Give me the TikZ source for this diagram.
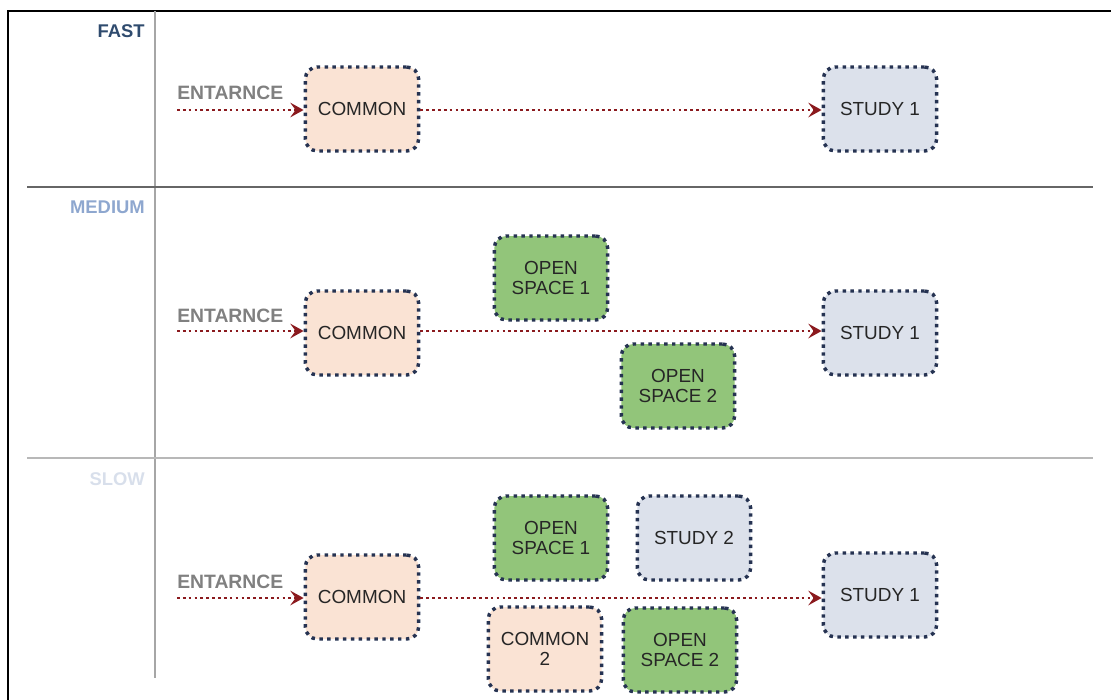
\documentclass[tikz,border=0pt]{standalone}
\usepackage{fontspec}
\setmainfont{Liberation Sans}
\usetikzlibrary{arrows.meta,positioning}

\definecolor{boxedge}{HTML}{263352}
\definecolor{walkred}{HTML}{8B1A1E}
\definecolor{commonfill}{HTML}{FAE3D4}
\definecolor{studyfill}{HTML}{DCE1EB}
\definecolor{openfill}{HTML}{92C57A}
\definecolor{fastc}{HTML}{2F4B6E}
\definecolor{mediumc}{HTML}{8EA7CF}
\definecolor{slowc}{HTML}{D8DFEB}

\begin{document}
\begin{tikzpicture}[x=0.75pt,y=-0.75pt]
\tikzstyle{room} = [draw=boxedge, line width=2.6pt, dash pattern=on 2.6pt off 3.3pt, rounded corners=9pt, minimum width=85pt, minimum height=63pt, inner sep=2pt, align=center, font=\fontsize{14.2}{15.5}\selectfont, text=black!85]
\tikzstyle{common} = [room, fill=commonfill]
\tikzstyle{study} = [room, fill=studyfill]
\tikzstyle{open} = [room, fill=openfill]
\tikzstyle{walk} = [draw=walkred, line width=2pt, dash pattern=on 2pt off 2.4pt, -{Stealth[length=10pt,width=11pt,inset=4pt,fill=walkred]}]
\tikzstyle{entlabel} = [anchor=base west, inner sep=0pt, font=\fontsize{14.5}{16}\bfseries, text=black!50]
\tikzstyle{rowlabel} = [anchor=base east, inner sep=0pt, font=\fontsize{13.8}{16}\bfseries]

\useasboundingbox (0,0) rectangle (1111,700);

% frame and lanes
\draw[line width=2.2pt] (8,700) -- (8,11) -- (1111,11);
\draw[black!35, line width=1pt] (155,11) -- (155,678);
\draw[black!60, line width=1pt] (27,187) -- (1093,187);
\draw[black!28, line width=1pt] (27,458) -- (1093,458);

\node[rowlabel, text=fastc] (fast) at (145,37) {FAST};
\node[rowlabel, text=mediumc] (medium) at (145,213) {MEDIUM};
\node[rowlabel, text=slowc] (slow) at (145,485) {SLOW};

% fast
\coordinate (fin) at (177,110);
\node[entlabel] (fent) at (177,99) {ENTARNCE};
\node[common] (fc) at (362,109) {COMMON};
\node[study] (fs1) at (880,109) {STUDY 1};
\draw[walk] (fin) -- (fc.west |- fin);
\draw[walk] (fc.east |- fin) -- (fs1.west |- fin);

% medium
\coordinate (min) at (177,331);
\node[entlabel] (ment) at (177,322) {ENTARNCE};
\node[common] (mc) at (362,333) {COMMON};
\node[study] (ms1) at (880,333) {STUDY 1};
\node[open] (mo1) at (551,278) {OPEN\\SPACE 1};
\node[open] (mo2) at (678,386) {OPEN\\SPACE 2};
\draw[walk] (min) -- (mc.west |- min);
\draw[walk] (mc.east |- min) -- (ms1.west |- min);

% slow
\coordinate (sin) at (177,598);
\node[entlabel] (sent) at (177,588) {ENTARNCE};
\node[common] (sc) at (362,597) {COMMON};
\node[study] (ss1) at (880,595) {STUDY 1};
\node[open] (so1) at (551,538) {OPEN\\SPACE 1};
\node[study] (ss2) at (694,538) {STUDY 2};
\node[common] (sc2) at (545,649) {COMMON\\2};
\node[open] (so2) at (680,650) {OPEN\\SPACE 2};
\draw[walk] (sin) -- (sc.west |- sin);
\draw[walk] (sc.east |- sin) -- (ss1.west |- sin);

\end{tikzpicture}
\end{document}
